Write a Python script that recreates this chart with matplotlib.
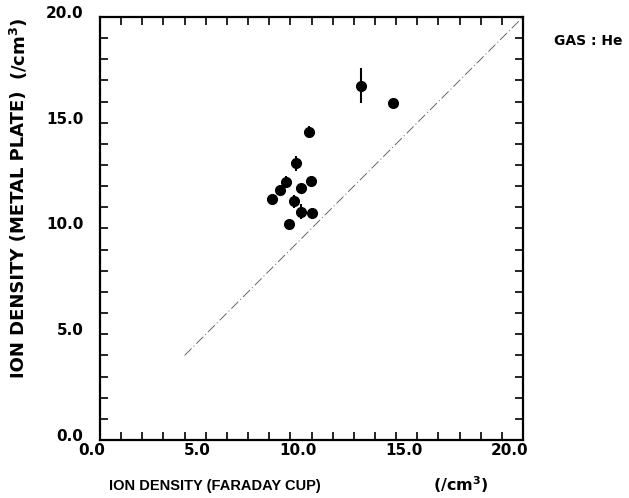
import numpy as np
import matplotlib.pyplot as plt
import matplotlib.transforms as mtransforms
from matplotlib.ticker import MultipleLocator, FormatStrFormatter

# Ion density, Faraday cup vs metal plate (units of /cm^3)
faraday = [8.12, 8.51, 8.79, 8.94, 9.17, 9.25, 9.49, 9.49, 9.99, 10.01, 9.88, 12.33, 13.87]
plate = [11.38, 11.82, 12.21, 10.21, 11.29, 13.08, 11.90, 10.79, 12.26, 10.72, 14.58, 16.75, 15.92]
plate_err = [0.0, 0.24, 0.25, 0.0, 0.3, 0.35, 0.0, 0.36, 0.0, 0.0, 0.28, 0.84, 0.0]
ref_line = [4.0, 20.0]
ticks = [0.0, 5.0, 10.0, 15.0, 20.0]

plt.rcParams['font.family'] = ['DejaVu Sans']
plt.rcParams['font.weight'] = 'bold'

fig = plt.figure(figsize=(6.29, 4.98), dpi=100)
ax = fig.add_axes([0.159, 0.1165, 0.6725, 0.8494])

# y = x reference line
ax.plot(ref_line, ref_line, color='#666666', lw=0.7, ls=(0, (10, 3, 1, 3)))

ax.errorbar(faraday, plate, yerr=plate_err, fmt='o', color='black',
            markersize=7, elinewidth=1.5, capsize=0)

ax.set_xlim(0, 20)
ax.set_ylim(0, 20)
ax.set_xticks(ticks)
ax.set_yticks(ticks)
ax.xaxis.set_minor_locator(MultipleLocator(1))
ax.yaxis.set_minor_locator(MultipleLocator(1))
ax.xaxis.set_major_formatter(FormatStrFormatter('%.1f'))
ax.yaxis.set_major_formatter(FormatStrFormatter('%.1f'))
ax.tick_params(which='both', direction='in', top=True, right=True,
               length=6, width=1.2, labelsize=11)
ax.tick_params(axis='x', pad=2)
ax.tick_params(axis='y', pad=12)
for s in ax.spines.values():
    s.set_linewidth(1.6)

# nudge tick labels: x labels sit left of their ticks, y labels a bit high
xshift = mtransforms.ScaledTranslation(5 / 100, 0, fig.dpi_scale_trans)
for lbl in ax.get_xticklabels():
    lbl.set_horizontalalignment('right')
    lbl.set_transform(lbl.get_transform() + xshift)
yshift = mtransforms.ScaledTranslation(0, 5 / 100, fig.dpi_scale_trans)
for lbl in ax.get_yticklabels():
    lbl.set_transform(lbl.get_transform() + yshift)

fig.text(0.341, 0.025, 'ION DENSITY (FARADAY CUP)', ha='center', va='center',
         fontsize=10.5, fontweight='bold', family='Liberation Sans')
fig.text(0.733, 0.027, '(/cm$^\\mathbf{3}$)', ha='center', va='center',
         fontsize=11.5, fontweight='bold')
fig.text(0.03, 0.53, 'ION DENSITY (METAL PLATE)', ha='center', va='center',
         rotation=90, fontsize=13, fontweight='bold')
fig.text(0.03, 0.902, '(/cm$^\\mathbf{3}$)', ha='center', va='center',
         rotation=90, fontsize=13, fontweight='bold')
fig.text(0.935, 0.918, 'GAS : He', ha='center', va='center',
         fontsize=10, fontweight='bold')

fig.savefig('out.png', dpi=100)
